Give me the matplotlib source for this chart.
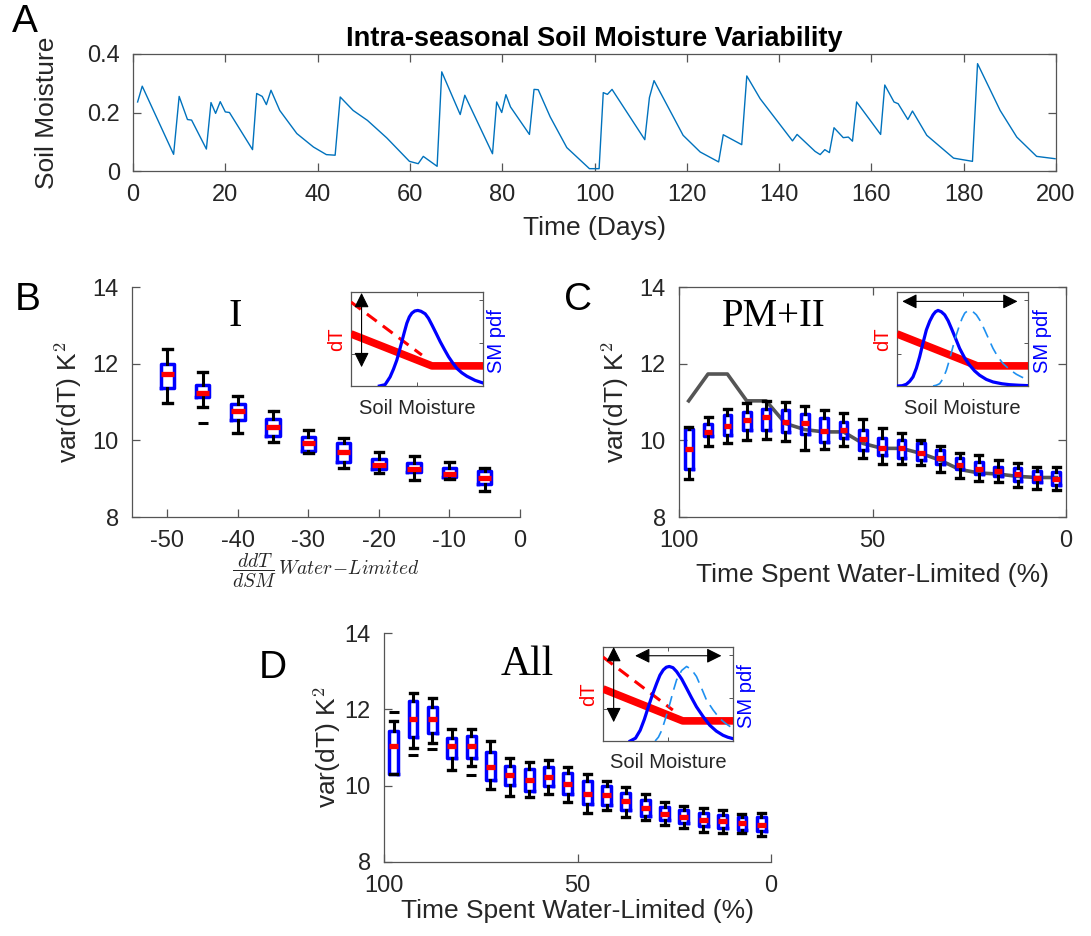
import matplotlib
matplotlib.use("Agg")
import matplotlib.pyplot as plt
import numpy as np

plt.rcParams['font.family'] = ['Liberation Sans', 'DejaVu Sans']
plt.rcParams['axes.unicode_minus'] = False
plt.rcParams['mathtext.fontset'] = 'cm'

# ---------------- Panel A data ----------------
days = [1, 2, 8.8, 10, 11.8, 12.7, 15.9, 16.9, 17.9, 18.9, 20, 20.9, 25.9, 26.8, 28, 28.9, 29.9,
        31.8, 35.5, 39.1, 41.9, 43.8, 44.9, 47.7, 50.8, 55, 59.9, 61.8, 62.9, 65.9, 66.9, 70.9,
        71.9, 77.9, 78.8, 79.9, 80.8, 81.8, 85.9, 86.9, 87.8, 90.4, 94, 98.9, 101, 101.9, 102.8,
        103.8, 110.9, 111.9, 112.9, 119.2, 122.9, 126.9, 127.9, 131.9, 133, 135.9, 142.9, 143.9,
        147.8, 148.9, 149.9, 150.9, 151.9, 153.9, 155, 155.9, 156.8, 162, 162.9, 164.9, 165.8,
        167.9, 168.9, 172, 177.8, 181.9, 183, 187.9, 191.5, 195.8, 199.8]
soil_moisture = [0.236, 0.290, 0.057, 0.255, 0.176, 0.174, 0.075, 0.234, 0.197, 0.237, 0.202,
                 0.200, 0.073, 0.265, 0.255, 0.227, 0.276, 0.207, 0.128, 0.082, 0.056, 0.054,
                 0.253, 0.207, 0.173, 0.113, 0.033, 0.025, 0.050, 0.016, 0.339, 0.193, 0.259,
                 0.059, 0.236, 0.200, 0.261, 0.219, 0.125, 0.279, 0.278, 0.185, 0.080, 0.008,
                 0.008, 0.268, 0.262, 0.279, 0.107, 0.251, 0.309, 0.122, 0.065, 0.031, 0.124,
                 0.090, 0.325, 0.247, 0.103, 0.125, 0.067, 0.056, 0.073, 0.063, 0.148, 0.114,
                 0.116, 0.102, 0.236, 0.125, 0.294, 0.236, 0.230, 0.176, 0.205, 0.122, 0.044,
                 0.033, 0.367, 0.207, 0.116, 0.050, 0.042]

# ---------------- Panel B data ----------------
b_pos = [-50, -45, -40, -35, -30, -25, -20, -15, -10, -5]
b_whishi = [12.39, 11.79, 11.16, 10.76, 10.28, 10.05, 9.70, 9.60, 9.43, 9.27]
b_q3 = [11.99, 11.44, 10.95, 10.56, 10.09, 9.92, 9.52, 9.41, 9.27, 9.19]
b_med = [11.72, 11.24, 10.76, 10.35, 9.92, 9.69, 9.35, 9.25, 9.13, 9.03]
b_q1 = [11.36, 11.14, 10.53, 10.12, 9.73, 9.44, 9.24, 9.18, 9.05, 8.87]
b_whislo = [10.97, 10.86, 10.18, 9.96, 9.67, 9.28, 9.15, 8.96, 8.99, 8.68]
b_fliers = [[], [10.44], [], [], [], [], [], [], [], []]

# ---------------- Panel C data ----------------
c_pos = [97.5, 92.5, 87.5, 82.5, 77.5, 72.5, 67.5, 62.5, 57.5, 52.5,
         47.5, 42.5, 37.5, 32.5, 27.5, 22.5, 17.5, 12.5, 7.5, 2.5]
c_whishi = [10.35, 10.62, 10.83, 10.98, 11.03, 11.01, 10.90, 10.79, 10.72, 10.55,
            10.31, 10.18, 10.02, 9.85, 9.66, 9.63, 9.48, 9.40, 9.31, 9.31]
c_q3 = [10.29, 10.42, 10.65, 10.75, 10.83, 10.78, 10.69, 10.57, 10.49, 10.28,
        10.05, 10.01, 9.92, 9.74, 9.53, 9.44, 9.31, 9.28, 9.19, 9.18]
c_med = [9.77, 10.23, 10.38, 10.52, 10.61, 10.49, 10.46, 10.24, 10.26, 10.04,
         9.79, 9.81, 9.66, 9.55, 9.35, 9.24, 9.19, 9.13, 9.03, 9.00]
c_q1 = [9.26, 10.12, 10.15, 10.27, 10.28, 10.22, 10.16, 9.96, 10.05, 9.74,
        9.61, 9.55, 9.48, 9.37, 9.26, 9.12, 9.06, 8.94, 8.92, 8.83]
c_whislo = [9.00, 9.86, 9.94, 10.02, 10.03, 9.99, 9.74, 9.77, 9.86, 9.54,
            9.38, 9.38, 9.35, 9.18, 9.03, 8.94, 8.92, 8.77, 8.74, 8.70]
c_line = [11.03, 11.73, 11.73, 11.03, 11.03, 10.44, 10.28, 10.22, 10.22, 9.92,
          9.79, 9.79, 9.66, 9.48, 9.24, 9.15, 9.12, 9.06, 9.03, 9.03]

# ---------------- Panel D data ----------------
d_pos = c_pos
d_whishi = [11.70, 12.43, 12.30, 11.49, 11.49, 11.16, 10.72, 10.63, 10.66, 10.49,
            10.30, 10.13, 9.97, 9.77, 9.57, 9.48, 9.42, 9.36, 9.27, 9.29]
d_q3 = [11.43, 12.23, 12.05, 11.24, 11.29, 10.87, 10.52, 10.43, 10.50, 10.33,
        10.13, 9.98, 9.81, 9.62, 9.44, 9.36, 9.29, 9.23, 9.18, 9.17]
d_med = [11.03, 11.74, 11.74, 11.03, 11.03, 10.49, 10.29, 10.14, 10.24, 10.04,
         9.79, 9.75, 9.61, 9.42, 9.26, 9.17, 9.10, 9.07, 9.01, 8.98]
d_q1 = [10.31, 11.27, 11.37, 10.72, 10.72, 10.14, 10.03, 9.85, 10.00, 9.79,
        9.53, 9.50, 9.36, 9.20, 9.11, 9.03, 8.94, 8.88, 8.85, 8.81]
d_whislo = [10.31, 10.98, 11.11, 10.42, 10.52, 9.91, 9.72, 9.70, 9.79, 9.57,
            9.29, 9.36, 9.18, 9.10, 8.97, 8.88, 8.79, 8.75, 8.75, 8.68]
d_fliers = [[11.94], [10.81], [10.96], [], [10.29], [], [], [], [], [],
            [], [], [], [], [], [], [], [], [], []]

# ---------------- Inset schematic curves (normalised 0-1) ----------------
dT_x = [0.0, 0.613, 1.0]
dT_y = [0.554, 0.214, 0.214]
dT_steep_x = [0.0, 0.537]
dT_steep_y = [0.893, 0.329]
pdf_dry_x = [0.215, 0.258, 0.296, 0.322, 0.347, 0.366, 0.385, 0.404, 0.423, 0.442, 0.461, 0.483,
             0.506, 0.530, 0.562, 0.587, 0.613, 0.645, 0.676, 0.708, 0.739, 0.771, 0.803, 0.84,
             0.878, 0.94, 1.0]
pdf_dry_y = [0.0, 0.014, 0.096, 0.18, 0.275, 0.372, 0.471, 0.572, 0.668, 0.735, 0.775, 0.798,
             0.804, 0.795, 0.768, 0.72, 0.65, 0.56, 0.471, 0.388, 0.311, 0.245, 0.186, 0.14,
             0.104, 0.06, 0.032]
pdfC_x = [0.0, 0.04, 0.071, 0.097, 0.122, 0.148, 0.173, 0.198, 0.224, 0.25, 0.275, 0.294, 0.313,
          0.338, 0.364, 0.39, 0.415, 0.446, 0.478, 0.516, 0.555, 0.593, 0.631, 0.682, 0.733, 0.8,
          0.86, 0.93, 1.0]
pdfC_y = [0.0, 0.003, 0.018, 0.05, 0.096, 0.19, 0.311, 0.455, 0.596, 0.69, 0.757, 0.79, 0.804,
          0.79, 0.757, 0.695, 0.614, 0.51, 0.4, 0.3, 0.221, 0.16, 0.114, 0.07, 0.043, 0.024,
          0.014, 0.008, 0.004]
pdfC_wet_x = [0.275, 0.3, 0.326, 0.352, 0.377, 0.402, 0.427, 0.452, 0.478, 0.497, 0.517, 0.536,
              0.555, 0.58, 0.606, 0.637, 0.669, 0.7, 0.733, 0.77, 0.809, 0.86, 0.911, 0.955, 1.0]
pdfC_wet_y = [0.0, 0.008, 0.025, 0.08, 0.168, 0.285, 0.418, 0.54, 0.65, 0.72, 0.775, 0.797,
              0.804, 0.79, 0.757, 0.69, 0.596, 0.5, 0.4, 0.31, 0.239, 0.175, 0.125, 0.093, 0.068]
pdfD_x = [0.209, 0.25, 0.286, 0.318, 0.349, 0.381, 0.413, 0.438, 0.464, 0.487, 0.51, 0.538, 0.566,
          0.605, 0.643, 0.681, 0.719, 0.77, 0.821, 0.872, 0.923, 0.96, 1.0]
pdfD_y = [0.0, 0.03, 0.114, 0.23, 0.364, 0.495, 0.614, 0.7, 0.757, 0.785, 0.793, 0.78, 0.739,
          0.66, 0.561, 0.46, 0.364, 0.26, 0.168, 0.105, 0.061, 0.04, 0.025]
pdfD_wet_x = [0.401, 0.426, 0.452, 0.483, 0.515, 0.54, 0.566, 0.605, 0.643, 0.681, 0.719, 0.757,
              0.796, 0.847, 0.898, 0.95, 1.0]
pdfD_wet_y = [0.0, 0.04, 0.114, 0.25, 0.4, 0.53, 0.65, 0.75, 0.793, 0.76, 0.686, 0.565, 0.436,
              0.33, 0.239, 0.18, 0.132]

W, H = 1091, 936
fig = plt.figure(figsize=(W / 100, H / 100), dpi=100)
AX_COL = '#262626'
FS = 17      # tick labels
LFS = 19     # axis labels


def add_ax(l, t, r, b):
    return fig.add_axes([l / W, 1 - b / H, (r - l) / W, (b - t) / H])


def style(ax, box=True, xpad=9.5, ypad=9.5):
    for s in ax.spines.values():
        s.set_color('#555555')
        s.set_linewidth(0.9)
    if not box:
        ax.spines['top'].set_visible(False)
        ax.spines['right'].set_visible(False)
    ax.tick_params(direction='in', length=6, width=0.9, color='#555555',
                   labelsize=FS, labelcolor=AX_COL, top=box, right=box)
    ax.tick_params(axis='x', pad=xpad)
    ax.tick_params(axis='y', pad=ypad)


# ---- Panel A ----
axA = add_ax(133, 54, 1056, 171)
axA.plot(days, soil_moisture, color='#0072BD', lw=1.0)
axA.set_xlim(0, 200)
axA.set_ylim(0, 0.4)
axA.set_xticks(range(0, 201, 20))
axA.set_yticks([0, 0.2, 0.4])
axA.set_yticklabels(['0', '0.2', '0.4'])
style(axA, box=True)
axA.set_xlabel('Time (Days)', fontsize=LFS, color=AX_COL, labelpad=7)
axA.set_ylabel('Soil Moisture', fontsize=LFS, color=AX_COL, labelpad=20)
axA.set_title('Intra-seasonal Soil Moisture Variability', fontsize=19.5, fontweight='bold', pad=6)


def boxes(ax, pos, lo, q1, med, q3, hi, fliers, width, capw):
    stats = []
    for i in range(len(pos)):
        stats.append(dict(med=med[i], q1=q1[i], q3=q3[i], whislo=lo[i], whishi=hi[i],
                          fliers=fliers[i] if fliers else []))
    ax.bxp(stats, positions=pos, widths=width, capwidths=capw, manage_ticks=False,
           boxprops=dict(color='#0000FF', lw=2.5),
           medianprops=dict(color='#FF0000', lw=3.8, solid_capstyle='butt'),
           whiskerprops=dict(color='black', lw=2.2),
           capprops=dict(color='black', lw=2.4),
           flierprops=dict(marker='_', markeredgecolor='black', markersize=7, markeredgewidth=2.2),
           zorder=3)


# ---- Panel B ----
axB = add_ax(132, 287, 520, 517)
boxes(axB, b_pos, b_whislo, b_q1, b_med, b_q3, b_whishi, b_fliers, 1.9, 1.25)
axB.set_xlim(-55, 0)
axB.set_ylim(8, 14)
axB.set_xticks([-50, -40, -30, -20, -10, 0])
axB.set_yticks([8, 10, 12, 14])
style(axB, box=False)
axB.set_ylabel('var(dT) K$^2$', fontsize=LFS, color=AX_COL, labelpad=6)
axB.set_xlabel(r'$\dfrac{ddT}{dSM}\,Water\!-\!Limited$', fontsize=14, color=AX_COL, labelpad=0)
axB.text(0.265, 0.87, 'I', transform=axB.transAxes, family='Liberation Serif', fontsize=29,
         ha='center', va='center')

# ---- Panel C ----
axC = add_ax(679, 287, 1066, 517)
axC.plot(c_pos, c_line, color='#555555', lw=2.6, zorder=2)
boxes(axC, c_pos, c_whislo, c_q1, c_med, c_q3, c_whishi, None, 2.0, 1.8)
axC.set_xlim(100, 0)
axC.set_ylim(8, 14)
axC.set_xticks([100, 50, 0])
axC.set_yticks([8, 10, 12, 14])
style(axC, box=True)
axC.set_ylabel('var(dT) K$^2$', fontsize=LFS, color=AX_COL, labelpad=6)
axC.set_xlabel('Time Spent Water-Limited (%)', fontsize=LFS, color=AX_COL, labelpad=8)
axC.text(0.245, 0.87, 'PM+II', transform=axC.transAxes, family='Liberation Serif', fontsize=28,
         ha='center', va='center')

# ---- Panel D ----
axD = add_ax(384, 633, 771, 862)
boxes(axD, d_pos, d_whislo, d_q1, d_med, d_q3, d_whishi, d_fliers, 2.3, 1.8)
axD.set_xlim(100, 0)
axD.set_ylim(8, 14)
axD.set_xticks([100, 50, 0])
axD.set_yticks([8, 10, 12, 14])
style(axD, box=False, xpad=9)
axD.set_ylabel('var(dT) K$^2$', fontsize=LFS, color=AX_COL, labelpad=1)
axD.set_xlabel('Time Spent Water-Limited (%)', fontsize=LFS, color=AX_COL, labelpad=2)
axD.text(0.37, 0.86, 'All', transform=axD.transAxes, family='Liberation Serif', fontsize=30,
         ha='center', va='center')

# ---- panel letters ----
for lbl, x, y in [('A', 25, 22), ('B', 28, 300), ('C', 578, 300), ('D', 273, 668)]:
    fig.text(x / W, 1 - y / H, lbl, fontsize=28, ha='center', va='center')


def inset(l, t, r, b, pdf_x, pdf_y, wet=None, steep=True, varrow=None, harrow=None):
    ax = add_ax(l, t, r, b)
    ax.set_xlim(0, 1)
    ax.set_ylim(0, 1)
    ax.plot(dT_x, dT_y, color='#FF0000', lw=5.5, solid_capstyle='butt', zorder=3)
    if steep:
        ax.plot(dT_steep_x, dT_steep_y, color='#FF0000', lw=2.2, ls=(0, (4, 2.5)), zorder=3)
    ax.plot(pdf_x, pdf_y, color='#0000FF', lw=2.3, zorder=4)
    if wet is not None:
        ax.plot(wet[0], wet[1], color='#1E90F0', lw=1.2, ls=(0, (7, 4)), zorder=4)
    aprops = dict(arrowstyle='<|-|>,head_length=0.9,head_width=0.45',
                  color='black', lw=0.8, shrinkA=0, shrinkB=0)
    if varrow is not None:
        ax.annotate('', xy=(varrow[0], varrow[1]), xytext=(varrow[0], varrow[2]),
                    arrowprops=aprops, zorder=5)
    if harrow is not None:
        ax.annotate('', xy=(harrow[1], harrow[0]), xytext=(harrow[2], harrow[0]),
                    arrowprops=aprops, zorder=5)
    for s in ax.spines.values():
        s.set_color('#555555')
        s.set_linewidth(0.9)
    ax.set_xticks([0.5])
    ax.set_yticks([0.336])
    ax.tick_params(direction='in', length=3, width=0.7, color='#555555', labelleft=False,
                   labelbottom=False, top=True)
    tw = ax.twinx()
    tw.set_ylim(0, 1)
    tw.set_yticks([0.454, 0.91])
    tw.tick_params(direction='in', length=3, width=0.7, color='#555555', labelright=False)
    for s in tw.spines.values():
        s.set_visible(False)
    cx = (l + r) / 2
    cy = (t + b) / 2
    fig.text((l - 14) / W, 1 - cy / H, 'dT', color='#FF0000', fontsize=14.5, rotation=90,
             ha='center', va='center')
    fig.text((r + 14) / W, 1 - (cy + 2) / H, 'SM pdf', color='#0000FF', fontsize=14.5,
             rotation=90, ha='center', va='center')
    fig.text(cx / W, 1 - (b + 22) / H, 'Soil Moisture', color=AX_COL, fontsize=14.5,
             ha='center', va='center')
    return ax


inset(351, 292, 483, 386, pdf_dry_x, pdf_dry_y, wet=None, steep=True,
      varrow=(0.08, 0.2, 0.99))
inset(897, 292, 1028, 386, pdfC_x, pdfC_y, wet=(pdfC_wet_x, pdfC_wet_y), steep=False,
      harrow=(0.9, 0.04, 0.92))
inset(603, 647, 733, 741, pdfD_x, pdfD_y, wet=(pdfD_wet_x, pdfD_wet_y), steep=True,
      varrow=(0.082, 0.2, 1.0), harrow=(0.907, 0.247, 0.911))

fig.savefig('out.png', dpi=100)
